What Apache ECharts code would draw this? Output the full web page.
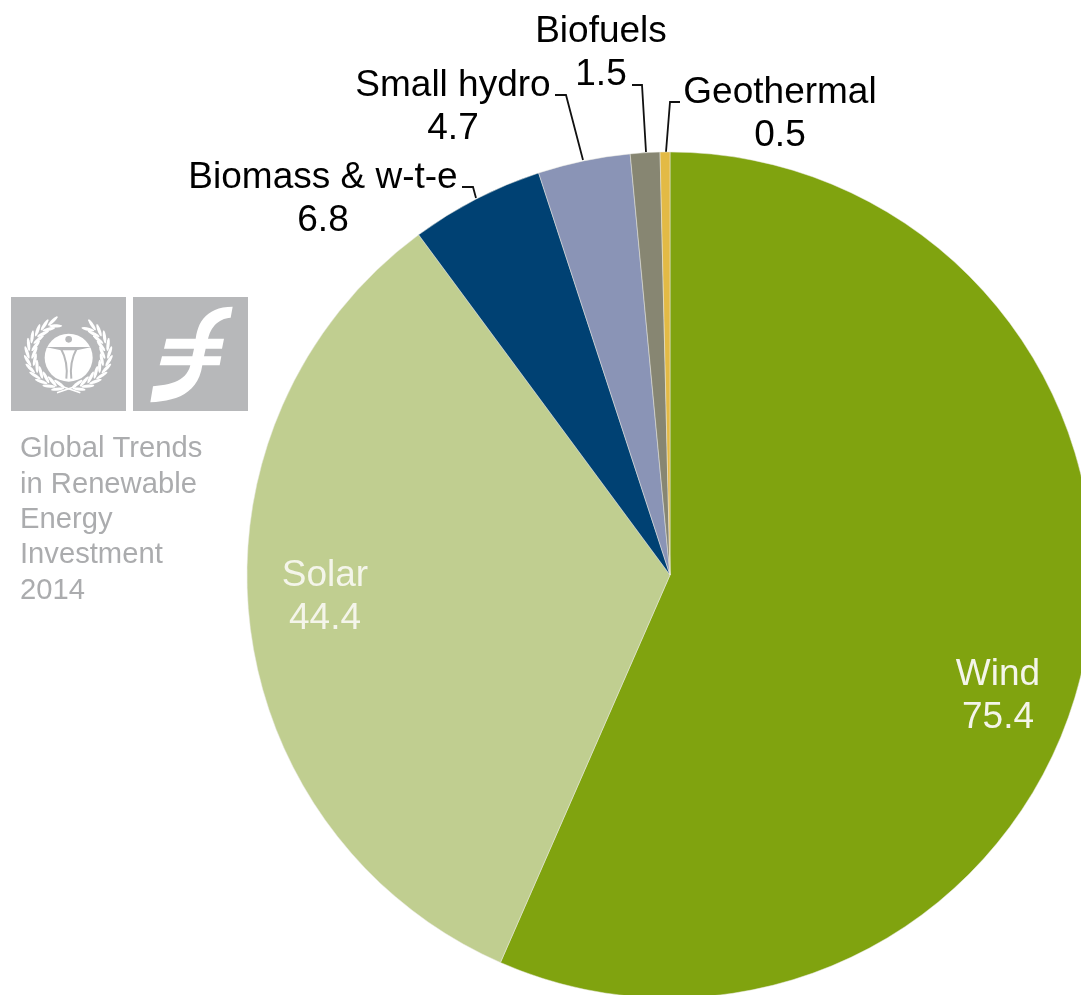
<!DOCTYPE html>
<html>
<head>
<meta charset="utf-8">
<style>html,body{margin:0;padding:0;background:#fff;overflow:hidden}#c{width:1081px;height:995px}</style>
<script src="https://cdn.jsdelivr.net/npm/echarts@6/dist/echarts.min.js"></script>
</head>
<body>
<div id="c"></div>
<script>
const categories = ['Wind', 'Solar', 'Biomass & w-t-e', 'Small hydro', 'Biofuels', 'Geothermal'];
const values = [75.4, 44.4, 6.8, 4.7, 1.5, 0.5];
const colors = ['#80A30F', '#C0CE90', '#004173', '#8A94B6', '#878672', '#E3BA45'];
const noteLines = ['Global Trends', 'in Renewable', 'Energy', 'Investment', '2014'];

const labelSpots = {
  'Wind': { x: 998, y: 696 },
  'Solar': { x: 325, y: 597 },
  'Biomass & w-t-e': { x: 323, y: 199, line: [[476, 198], [473, 187], [462, 187]] },
  'Small hydro': { x: 453, y: 107, line: [[583, 160], [566, 95], [555, 95]] },
  'Biofuels': { x: 601, y: 53, line: [[646, 152], [642, 85], [632, 85]] },
  'Geothermal': { x: 780, y: 114, line: [[666, 152], [670, 102], [680, 102]] }
};

const LOGO_GREY = '#b7b8ba';
const logos = [];
logos.push({ type: 'rect', shape: { x: 11, y: 297, width: 115, height: 114 }, style: { fill: LOGO_GREY }, silent: true });
logos.push({ type: 'rect', shape: { x: 133, y: 297, width: 115, height: 114 }, style: { fill: LOGO_GREY }, silent: true });

// Finance-centre emblem, outlined in a 345-unit box (3x scale), curves flattened for a polygon
function curve(p0, c1, c2, p1) {
  const out = [];
  for (let k = 1; k <= 14; k++) {
    const t = k / 14, m = 1 - t;
    out.push([
      m * m * m * p0[0] + 3 * m * m * t * c1[0] + 3 * m * t * t * c2[0] + t * t * t * p1[0],
      m * m * m * p0[1] + 3 * m * m * t * c1[1] + 3 * m * t * t * c2[1] + t * t * t * p1[1]
    ]);
  }
  return out;
}
const sign = [[299, 29]]
  .concat(curve([299, 29], [225, 30], [195, 70], [188, 125]))
  .concat([[100, 125], [93, 155], [183, 155], [178, 178], [87, 178], [80, 205], [172, 205]])
  .concat(curve([172, 205], [160, 250], [120, 262], [60, 268]))
  .concat([[52, 316]])
  .concat(curve([52, 316], [130, 312], [195, 290], [208, 205]))
  .concat([[260, 205], [265, 178], [213, 178], [218, 155], [267, 155], [273, 125], [225, 125]])
  .concat(curve([225, 125], [235, 85], [260, 65], [293, 62]));
logos.push({
  type: 'polygon', silent: true,
  shape: { points: sign.map(p => [133 + p[0] / 3, 297 + p[1] / 3]) },
  style: { fill: '#fff' }
});

// UNEP emblem
const ux = 11, uy = 297, u = 1 / 3;
logos.push({ type: 'circle', shape: { cx: ux + 173 * u, cy: uy + 182 * u, r: 72 * u }, style: { fill: '#fff' }, silent: true });
logos.push({ type: 'circle', shape: { cx: ux + 173 * u, cy: uy + 127 * u, r: 10 * u }, style: { fill: LOGO_GREY }, silent: true });
logos.push({
  type: 'polygon', silent: true,
  shape: { points: [[103, 150], [243, 150], [197, 160], [150, 160]].map(p => [ux + p[0] * u, uy + p[1] * u]) },
  style: { fill: LOGO_GREY }
});
[[150, 155, 172, 195, 166, 245], [197, 155, 175, 195, 181, 245]].forEach(a => {
  logos.push({
    type: 'bezierCurve', silent: true,
    shape: { x1: ux + a[0] * u, y1: uy + a[1] * u, cpx1: ux + a[2] * u, cpy1: uy + a[3] * u, x2: ux + a[4] * u, y2: uy + a[5] * u },
    style: { stroke: LOGO_GREY, lineWidth: 2, fill: null }
  });
});
// wreath leaves
function leaf(cx, cy, rot) {
  const pts = [];
  for (let k = 0; k < 14; k++) {
    const a = k / 14 * Math.PI * 2;
    const ex = 6.6 * Math.cos(a), ey = 1.6 * Math.sin(a);
    pts.push([cx + ex * Math.cos(rot) - ey * Math.sin(rot), cy + ex * Math.sin(rot) + ey * Math.cos(rot)]);
  }
  return pts;
}
[[-1, 168], [1, 152]].forEach(cfg => {
  const side = cfg[0];
  for (let deg = 15; deg <= cfg[1]; deg += 13) {
    const rad = deg * Math.PI / 180;
    [[124, 108, 0.38], [102, 92, -0.38]].forEach(o => {
      const px = ux + (172 + side * o[0] * Math.sin(rad)) * u;
      const py = uy + (172 + o[1] * Math.cos(rad)) * u;
      const tilt = side * (-rad + o[2]);
      logos.push({ type: 'polygon', silent: true, shape: { points: leaf(px, py, tilt) }, style: { fill: '#fff' } });
    });
  }
  logos.push({
    type: 'line', silent: true,
    shape: { x1: ux + (173 - side * 22) * u, y1: uy + 268 * u, x2: ux + (173 + side * 35) * u, y2: uy + 287 * u },
    style: { stroke: '#fff', lineWidth: 1.6 }
  });
});

const notes = noteLines.map((t, i) => ({
  type: 'text', silent: true, x: 20, y: [449, 485, 520, 555, 591][i],
  style: { text: t, font: '29.2px "Liberation Sans", Arial, sans-serif', fill: '#abacae', verticalAlign: 'middle', align: 'left' }
}));

const chart = echarts.init(document.getElementById('c'), null, { renderer: 'canvas' });
chart.setOption({
  animation: false,
  backgroundColor: '#fff',
  graphic: { elements: logos.concat(notes) },
  series: [{
    type: 'pie',
    center: [670, 575],
    radius: [0, 423],
    startAngle: 90,
    clockwise: true,
    silent: true,
    avoidLabelOverlap: false,
    itemStyle: { borderColor: '#e8e8e0', borderWidth: 0.5 },
    label: {
      show: true,
      position: 'outside',
      formatter: '{b}\n{c}',
      fontFamily: '"Liberation Sans", Arial, sans-serif',
      fontSize: 37,
      lineHeight: 43,
      color: '#000',
      align: 'center'
    },
    labelLine: { show: true, lineStyle: { color: '#111', width: 1.8 } },
    labelLayout: function (p) {
      const s = labelSpots[categories[p.dataIndex]];
      const out = { x: s.x, y: s.y, align: 'center', verticalAlign: 'middle', hideOverlap: false };
      if (s.line) out.labelLinePoints = s.line;
      return out;
    },
    data: categories.map((name, i) => {
      const inside = name === 'Wind' || name === 'Solar';
      return {
        name: name,
        value: values[i],
        itemStyle: { color: colors[i] },
        label: inside ? { color: '#f4f5ea' } : {},
        labelLine: inside ? { show: false } : {}
      };
    })
  }]
});
</script>
</body>
</html>
